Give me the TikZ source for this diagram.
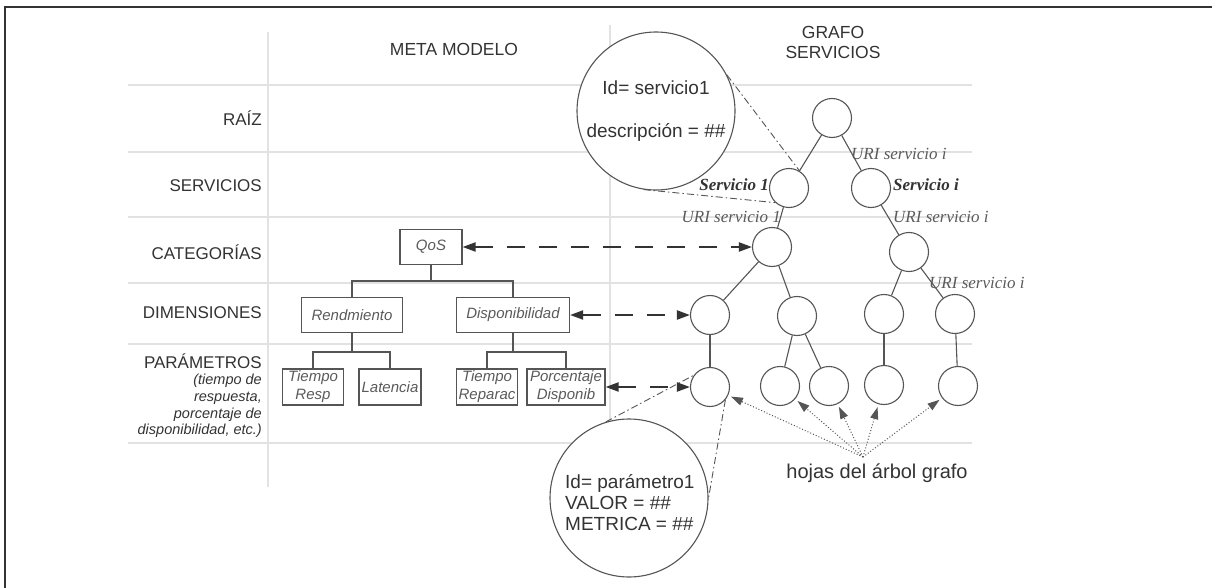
\documentclass[tikz,border=0pt]{standalone}
\usepackage{fontspec}
\setmainfont{Liberation Sans}
\newfontfamily\srf{Liberation Serif}
\usetikzlibrary{arrows.meta}
\definecolor{gridc}{HTML}{E2E2E2}
\definecolor{ink}{HTML}{333333}
\definecolor{ln}{HTML}{555555}
\definecolor{soft}{HTML}{5A5A5A}
\begin{document}
\begin{tikzpicture}[x=1pt,y=-1pt,
  gline/.style={draw=gridc,line width=1.6pt},
  framec/.style={draw=ink,line width=1.5pt},
  rowlab/.style={anchor=east,inner sep=0,text=ink,font=\fontsize{17}{20}\selectfont},
  head/.style={inner sep=0,text=ink,align=center,font=\fontsize{17.5}{20}\selectfont},
  mbox/.style={draw=ln,line width=1.1pt,inner sep=0,text=soft,align=center,font=\fontsize{15}{18}\selectfont\itshape},
  gnode/.style={circle,draw=ln,line width=1.1pt,fill=white,minimum size=39pt,inner sep=0},
  gedge/.style={draw=ln,line width=1.1pt},
  mtree/.style={draw=ln,line width=1.2pt},
  uri/.style={inner sep=0,text=soft,font=\fontsize{17}{20}\selectfont\srf\itshape},
  serv/.style={inner sep=0,text=ink,font=\fontsize{17}{20}\selectfont\srf\bfseries\itshape},
  dasharrow/.style={draw=ink,line width=2pt,dash pattern=on 18pt off 14pt,{Triangle[length=13pt,width=9pt]}-{Triangle[length=13pt,width=9pt]}},
  dotarrow/.style={draw=ln,line width=1pt,dotted,-{Triangle[length=12pt,width=8pt]},shorten >=3pt},
  zoomln/.style={draw=ln,line width=0.9pt,dash pattern=on 7pt off 3pt on 1.5pt off 3pt},
  bigc/.style={circle,draw=ln,line width=1.1pt,fill=white,inner sep=0},
]
\path[use as bounding box] (0,0) rectangle (1212,588);
% frame
\draw[framec] (5,592) -- (5,7) -- (1216,7);
% grid
\foreach \yy in {85,152,217,283,344,443} \draw[gline] (128,\yy) -- (972,\yy);
\draw[gline] (268,32) -- (268,487);
\draw[gline] (610,25) -- (610,443);
% headings
\node[head] (hmeta) at (454,49) {META MODELO};
\node[head] (hgrafo) at (833,42) {GRAFO\\SERVICIOS};
% row labels
\node[rowlab] (lraiz) at (262,118) {RAÍZ};
\node[rowlab] (lserv) at (262,186) {SERVICIOS};
\node[rowlab] (lcat) at (262,252) {CATEGORÍAS};
\node[rowlab] (ldim) at (262,313) {DIMENSIONES};
\node[rowlab] (lpar) at (262,361) {PARÁMETROS};
\node[anchor=north east,inner sep=0,align=right,text=ink,font=\fontsize{14.5}{16.7}\selectfont\itshape] (lsub) at (262,374) {(tiempo de\\respuesta,\\porcentaje de\\disponibilidad, etc.)};
% meta model
\node[mbox,minimum width=62pt,minimum height=35pt] (qos) at (431,247) {QoS};
\node[mbox,minimum width=101pt,minimum height=35pt] (rend) at (352,315) {Rendmiento};
\node[mbox,minimum width=113pt,minimum height=35pt] (disp) at (513,315) {Disponibilidad};
\node[mbox,minimum width=61pt,minimum height=36pt] (tresp) at (313,387) {Tiempo\\Resp};
\node[mbox,minimum width=62pt,minimum height=36pt] (lat) at (390,387) {Latencia};
\node[mbox,minimum width=61pt,minimum height=36pt] (trep) at (487,387) {Tiempo\\Reparac};
\node[mbox,minimum width=78pt,minimum height=36pt] (pdisp) at (566,387) {Porcentaje\\Disponib};
\draw[mtree] (qos.south) -- ++(0,16) coordinate (qj);
\draw[mtree] (rend.north) |- (qj) -| (disp.north);
\draw[mtree] (rend.south) -- ++(0,19) coordinate (rj);
\draw[mtree] (tresp.north) |- (rj) -| (lat.north);
\draw[mtree] (disp.south) -- ++(0,19) coordinate (dj);
\draw[mtree] (trep.north) |- (dj) -| (pdisp.north);
% callout circles
\node[bigc,minimum size=158pt] (topc) at (656,111) {};
\node[inner sep=0,align=center,text=ink,font=\fontsize{19}{43}\selectfont] (toptx) at (656,111) {Id= servicio1\\descripción = \#\#};
\node[bigc,minimum size=158pt] (botc) at (629,498) {};
\node[anchor=west,inner sep=0,align=left,text=ink,font=\fontsize{19}{21}\selectfont] (bottx) at (565,503) {Id= parámetro1\\VALOR = \#\#\\METRICA = \#\#};
% graph nodes
\node[gnode] (nroot) at (832,118) {};
\node[gnode] (ns1) at (789,188) {};
\node[gnode] (nsi) at (871,188) {};
\node[gnode] (nc1) at (772,247) {};
\node[gnode] (nci) at (909,252) {};
\node[gnode] (na) at (710,315) {};
\node[gnode] (nb) at (797,316) {};
\node[gnode] (nc) at (884,314) {};
\node[gnode] (nd) at (955,314) {};
\node[gnode] (ne) at (710,387) {};
\node[gnode] (nf) at (780,386) {};
\node[gnode] (ng) at (829,386) {};
\node[gnode] (nh) at (884,385) {};
\node[gnode] (ni) at (958,386) {};
\draw[gedge] (nroot) -- (ns1);
\draw[gedge] (nroot) -- (nsi);
\draw[gedge] (ns1) -- (nc1);
\draw[gedge] (nsi) -- (nci);
\draw[gedge] (nc1) -- (na);
\draw[gedge] (nc1) -- (nb);
\draw[gedge] (nci) -- (nc);
\draw[gedge] (nci) -- (nd);
\draw[gedge] (na) -- (ne);
\draw[gedge] (nb) -- (nf);
\draw[gedge] (nb) -- (ng);
\draw[gedge] (nc) -- (nh);
\draw[gedge] (nd) -- (ni);
% edge labels
\node[uri,anchor=west] (u0) at (851,154) {URI servicio i};
\node[serv,anchor=east] (sv1) at (769,185) {Servicio 1};
\node[serv,anchor=west] (svi) at (893,185) {Servicio i};
\node[uri,anchor=east] (u1) at (781,217) {URI servicio 1};
\node[uri,anchor=west] (u2) at (893,217) {URI servicio i};
\node[uri,anchor=west] (u3) at (929,283) {URI servicio i};
% zoom lines
\draw[zoomln] (topc.27) -- (ns1.58);
\draw[zoomln] (topc.261) -- (ns1.227);
\draw[zoomln] (botc.107) -- (ne.144);
\draw[zoomln] (ne.-40) -- (botc.0);
% dashed correspondences
\draw[dasharrow] (qos.east) -- (nc1.west);
\draw[dasharrow] (disp.east) -- (na.west);
\draw[dasharrow] (pdisp.east) -- (ne.west);
% leaves
\coordinate (hj) at (863,457);
\node[inner sep=0,text=ink,font=\fontsize{20}{22}\selectfont] (hojas) at (877,473) {hojas del árbol grafo};
\draw[dotarrow] (hj) -- (ne);
\draw[dotarrow] (hj) -- (nf);
\draw[dotarrow] (hj) -- (ng);
\draw[dotarrow] (hj) -- (nh);
\draw[dotarrow] (hj) -- (ni);
\end{tikzpicture}
\end{document}
